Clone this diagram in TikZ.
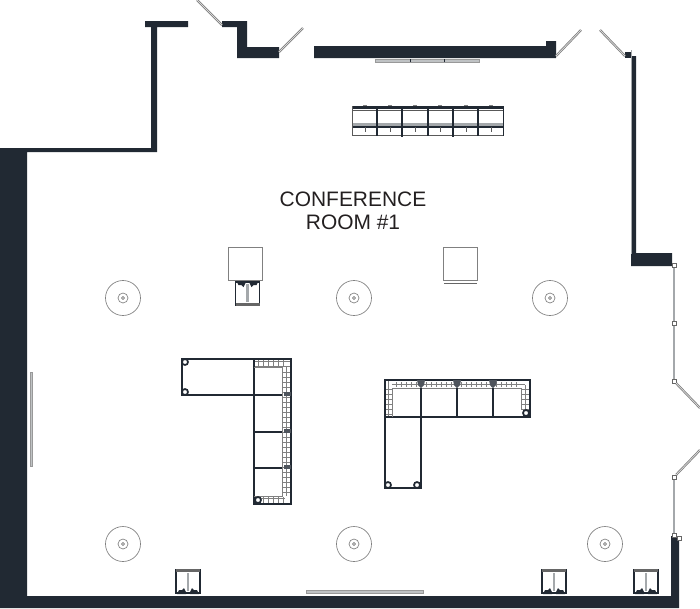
\documentclass[tikz,border=0pt]{standalone}
\usepackage{fontspec}
\setmainfont{Liberation Sans}
\definecolor{wall-dark}{HTML}{212933}
\definecolor{glass-grey}{HTML}{A4A8AB}
\definecolor{label-dark}{HTML}{231F20}
\tikzset{
    wall/.style = {fill=wall-dark, draw=none},
    glass/.style = {fill=glass-grey!70, draw=gray!80, line width=0.3pt},
    glaze-line/.style = {draw=glass-grey, line width=1.7pt},
    door-leaf/.style = {draw=gray, line width=0.65pt, double=white!85!gray, double distance=0.4pt},
    mullion/.style = {draw=gray!80!black, fill=white, rectangle, line width=0.4pt, inner sep=0pt, minimum size=3pt},
    sofa-line/.style = {draw=wall-dark, line width=0.85pt},
    sofa-grid/.style = {draw=gray, line width=0.3pt},
    sofa-foot/.style = {draw=wall-dark, fill=white, line width=1.3pt},
    table-top/.style = {draw=gray!70!black, line width=0.9pt},
    room-label/.style = {align=center, font=\fontsize{15.7}{17.6}\selectfont, text=label-dark},
    light/.pic = {
        \draw[gray, line width=0.5pt] (0,0) circle (17.5) (0,0) circle (5);
        \draw[gray!70!black, line width=0.4pt] (0,0) circle (1.6);
    },
    seat/.pic = {
        \draw[wall-dark, line width=1pt] (0,0) rectangle (24,23);
        \draw[glass-grey, line width=1.6pt] (12,2) -- (12,20);
        \fill[wall-dark] (1,-1) -- (10,-1) -- (10,1) -- (8,5) -- (6,3) -- (3,3) -- cycle;
        \fill[wall-dark] (23,-1) -- (14,-1) -- (14,1) -- (16,5) -- (18,3) -- (21,3) -- cycle;
        \fill[gray!80!black] (0,21) rectangle (24,24);
    },
}

\begin{document}
\begin{tikzpicture}[x=0.75pt, y=-0.75pt]
\useasboundingbox (0,0) rectangle (700,608);

% walls
\fill[wall] (0,148) -- (151,148) -- (151,27) -- (145,27) -- (145,21) -- (188,21) -- (188,27) -- (157,27) -- (157,152) -- (27,152) -- (27,596) -- (671,596) -- (671,536) -- (679,536) -- (679,608) -- (0,608) -- cycle;
\fill[wall] (222,21) -- (247,21) -- (247,47) -- (279,47) -- (279,58) -- (237,58) -- (237,27) -- (222,27) -- cycle;
\fill[wall] (314,46) -- (546,46) -- (546,41) -- (556,41) -- (556,58) -- (314,58) -- cycle;
\fill[wall] (625,52) rectangle (631,58);
\fill[wall] (632,56) -- (636,56) -- (636,253) -- (672,253) -- (672,266) -- (631,266) -- (631,253) -- (632,253) -- cycle;
\draw[glass-grey, line width=0.7pt] (631.5,50) -- (631.5,254);

% windows
\draw[glass] (375,59) rectangle (479,62);
\draw[wall-dark, line width=0.4pt] (410,59) -- (410,62) (444,59) -- (444,62);
\draw[glass] (30,372) rectangle (32,466);
\draw[glass] (306,590) rectangle (423,593);

% doors and glazed side
\coordinate (door-a) at (197,0);
\coordinate (door-b) at (222,25);
\coordinate (door-c) at (279,52);
\coordinate (door-d) at (303,28);
\coordinate (door-e) at (556,56);
\coordinate (door-f) at (581,30);
\coordinate (door-g) at (600,30);
\coordinate (door-h) at (625,56);
\coordinate (door-i) at (700,408);
\coordinate (door-j) at (700,450);
\draw[glaze-line] (674,265) -- (674,381);
\draw[glaze-line] (674,477) -- (674,535);
\node[mullion] (glaze-a) at (674,265) {};
\node[mullion] (glaze-b) at (674,323) {};
\node[mullion] (glaze-c) at (674,381) {};
\node[mullion] (glaze-d) at (674,477) {};
\node[mullion] (glaze-e) at (674,535) {};
\node[mullion] (glaze-f) at (679,538) {};
\draw[door-leaf] (door-a) -- (door-b);
\draw[door-leaf] (door-c) -- (door-d);
\draw[door-leaf] (door-e) -- (door-f);
\draw[door-leaf] (door-g) -- (door-h);
\draw[door-leaf] (glaze-c) -- (door-i);
\draw[door-leaf] (glaze-d) -- (door-j);

% table along the top wall
\fill[wall-dark] (352,106) rectangle (504,109);
\draw[gray!70!black, line width=0.8pt] (352,110.5) -- (504,110.5);
\fill[glass-grey] (352,123) rectangle (504,126.5);
\draw[wall-dark, line width=1pt] (352,127) -- (504,127);
\draw[table-top] (352,135.5) -- (504,135.5);
\draw[table-top] (352.5,106) -- (352.5,136);
\draw[wall-dark, line width=1.2pt] (503.5,106) -- (503.5,136);
\foreach \x in {377,428,478} \draw[wall-dark, line width=1pt] (\x,106) -- (\x,136);
\foreach \x in {402,453} \draw[wall-dark, line width=2pt] (\x,106) -- (\x,136.5);
\foreach \x in {365,390,415,440,466,491} {
    \draw[gray!70!black, line width=0.6pt] (\x,127) -- (\x,132);
    \draw[gray, line width=0.6pt] (\x-2,105.5) -- (\x+2,105.5);
}

% tables with chairs
\node[draw=gray, line width=0.6pt, fill=white, minimum size=25pt, inner sep=0pt] (table-a) at (245.5,264) {};
\node[draw=gray, line width=0.6pt, fill=white, minimum size=25pt, inner sep=0pt] (table-b) at (460.5,264) {};
\draw[gray!80!black, line width=0.5pt] (444,283) -- (477,283);
\pic at (235.5,282) {seat};
\pic[yscale=-1] at (176,593) {seat};
\pic[yscale=-1] at (542,593) {seat};
\pic[yscale=-1] at (634,593) {seat};

% ceiling lights
\foreach \x/\y in {123/298, 354/298, 550/298, 123/544, 354/544, 605/544} \pic at (\x,\y) {light};

% sofa left
\foreach \y in {361,366} \draw[sofa-grid] (254,\y) -- (291,\y);
\draw[sofa-grid] (254,498) -- (285,498);
\foreach \x in {258,263,...,283} {
    \draw[sofa-grid] (\x,360) -- (\x,367);
    \draw[sofa-grid] (\x,497) -- (\x,503);
}
\foreach \y in {372,377,...,494} \draw[sofa-grid] (283,\y) -- (290,\y);
\draw[sofa-grid] (286,367) -- (286,496);
\draw[sofa-line] (182,359) rectangle (254,395);
\draw[sofa-line] (254,359) rectangle (291,504);
\draw[sofa-grid, line width=0.6pt] (254,367) -- (282,367) -- (282,496) -- (254,496);
\foreach \y in {395,432,468} {
    \draw[sofa-line, line width=1.2pt] (254,\y) -- (282,\y);
    \fill[wall-dark!80] (284,\y-3) rectangle (291,\y+1);
}
\draw[sofa-foot] (185,362) circle (3);
\draw[sofa-foot] (185,392) circle (3);
\draw[sofa-foot] (258,500) circle (3);

% sofa right
\foreach \x in {396,401,...,518} \draw[sofa-grid] (\x,382) -- (\x,387);
\foreach \y in {389,394,...,414} \draw[sofa-grid] (385,\y) -- (392,\y);
\foreach \y in {389,394,...,409} \draw[sofa-grid] (521,\y) -- (530,\y);
\draw[sofa-grid] (392,384.5) -- (525,384.5);
\draw[sofa-grid] (388.5,381) -- (388.5,417);
\draw[sofa-grid] (525.5,385) -- (525.5,409);
\draw[sofa-line] (385,380) rectangle (530,417);
\draw[sofa-line] (385,417) -- (385,488) -- (421,488) -- (421,417);
\draw[sofa-grid, line width=0.6pt] (392,417) -- (392,388) -- (521,388) -- (521,410);
\foreach \x in {421,457,493} {
    \draw[sofa-line, line width=1.2pt] (\x,388) -- (\x,417);
    \fill[wall-dark!80] (\x-4,380) -- (\x+4,380) -- (\x+3,385) -- (\x,388) -- (\x-3,385) -- cycle;
}
\draw[sofa-foot] (388,485) circle (3);
\draw[sofa-foot] (417,485) circle (3);
\draw[sofa-foot] (526,413) circle (3);

\node[room-label] (room-name) at (353,211) {CONFERENCE\\ROOM \#1};
\end{tikzpicture}
\end{document}
